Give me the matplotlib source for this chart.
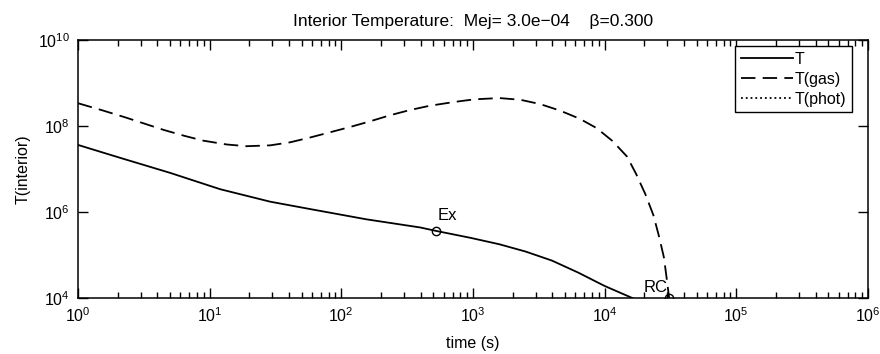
import numpy as np
import matplotlib.pyplot as plt
from matplotlib.ticker import NullLocator, NullFormatter, LogLocator

plt.rcParams['font.family'] = ['Liberation Sans', 'DejaVu Sans']
plt.rcParams['mathtext.default'] = 'regular'

# Datos (log10 del tiempo y de la temperatura)
logt_T = [0, 0.32, 0.70, 1.08, 1.46, 1.76, 2.19, 2.60, 2.72, 2.98, 3.20, 3.40, 3.60, 3.80, 4.00, 4.21, 4.28]
logT_T = [7.56, 7.26, 6.91, 6.53, 6.24, 6.07, 5.83, 5.64, 5.56, 5.40, 5.25, 5.08, 4.87, 4.59, 4.28, 4.0, 3.88]

logt_gas = [0, 0.19, 0.36, 0.51, 0.65, 0.81, 0.95, 1.13, 1.28, 1.46, 1.61, 1.76, 1.91, 2.07,
            2.22, 2.37, 2.52, 2.67, 2.86, 3.01, 3.20, 3.36, 3.51, 3.66, 3.81, 3.94, 4.06,
            4.17, 4.24, 4.31, 4.37, 4.41, 4.45, 4.47, 4.49, 4.50]
logT_gas = [8.53, 8.36, 8.20, 8.05, 7.91, 7.77, 7.66, 7.57, 7.53, 7.55, 7.62, 7.73, 7.85, 7.98,
            8.11, 8.25, 8.37, 8.47, 8.56, 8.62, 8.65, 8.61, 8.51, 8.36, 8.17, 7.95, 7.65,
            7.29, 6.88, 6.41, 5.93, 5.47, 4.95, 4.49, 4.0, 3.8]

# Puntos marcados
t_ex, T_ex = 10**2.72, 10**5.56
t_rc, T_rc = 10**4.49, 1e4

x_lim = [1e0, 1e6]
y_lim = [1e4, 1e10]
y_ticks = [1e4, 1e6, 1e8, 1e10]

t_T = 10**np.array(logt_T)
T_T = 10**np.array(logT_T)
t_gas = 10**np.array(logt_gas)
T_gas = 10**np.array(logT_gas)

fig = plt.figure(figsize=(8.8, 3.54), dpi=100)
ax = fig.add_axes([0.0886, 0.1582, 0.8977, 0.7288])

ax.plot(t_T, T_T, 'k-', lw=1.3, label='T')
ax.plot(t_gas, T_gas, 'k--', lw=1.3, dashes=(8, 4), label='T(gas)')
ax.plot([], [], 'k:', lw=1.3, label='T(phot)')

ax.plot(t_ex, T_ex, 'o', ms=6, mfc='none', mec='k', mew=1.0)
ax.plot(t_rc, T_rc, 'o', ms=6, mfc='none', mec='k', mew=1.0)
ax.annotate('Ex', (t_ex, T_ex), xytext=(1, 6), textcoords='offset points',
            ha='left', va='bottom', fontsize=12)
ax.annotate('RC', (t_rc, T_rc), xytext=(-1, 2), textcoords='offset points',
            ha='right', va='bottom', fontsize=12)

ax.set_xscale('log')
ax.set_yscale('log')
ax.set_xlim(x_lim)
ax.set_ylim(y_lim)
ax.set_yticks(y_ticks)
ax.yaxis.set_minor_locator(NullLocator())
ax.xaxis.set_major_locator(LogLocator(base=10, numticks=10))
ax.xaxis.set_minor_locator(LogLocator(base=10, subs=np.arange(2, 10), numticks=20))
ax.xaxis.set_minor_formatter(NullFormatter())

ax.tick_params(which='both', direction='in', top=True, right=True, labelsize=11.5, width=1.0)
ax.tick_params(which='major', length=7, pad=6)
ax.tick_params(which='minor', length=4)
for s in ax.spines.values():
    s.set_linewidth(1.1)

ax.set_title('Interior Temperature:  Mej= 3.0e\u221204    \u03b2=0.300', fontsize=12.5, pad=10)
ax.set_xlabel('time (s)', fontsize=11.5, labelpad=8)
ax.set_ylabel('T(interior)', fontsize=11.5, labelpad=5)

leg = ax.legend(loc='upper right', bbox_to_anchor=(0.98, 0.975), fontsize=11.5,
                fancybox=False, edgecolor='k', framealpha=1, handlelength=3.3,
                borderaxespad=0, labelspacing=0.3, handletextpad=0.1, borderpad=0.35)
leg.get_frame().set_linewidth(1.0)

plt.savefig('out.png', dpi=100)
